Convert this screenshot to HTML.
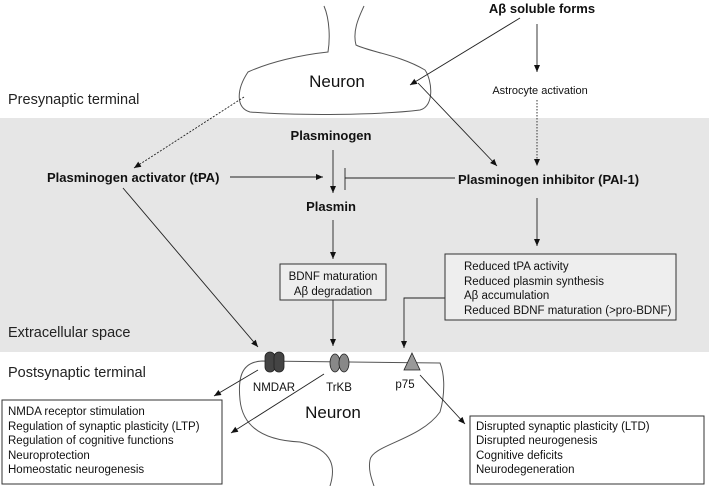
<!DOCTYPE html>
<html><head><meta charset="utf-8"><style>
html,body{margin:0;padding:0;background:#fff}
svg{display:block}
text{font-family:"Liberation Sans",sans-serif;fill:#111}
.b{font-weight:bold;font-size:13px}
.s{font-size:11.5px}
.h{font-size:14.5px;fill:#222}
</style></head><body>
<svg width="709" height="486" viewBox="0 0 709 486" xmlns="http://www.w3.org/2000/svg">
<defs><marker id="a" markerWidth="8" markerHeight="8" refX="7" refY="4" orient="auto" markerUnits="userSpaceOnUse"><path d="M0,1 L7,4 L0,7z" fill="#111"/></marker></defs>
<rect x="0" y="118" width="709" height="234" fill="#e6e6e6"/>
<g fill="none" stroke="#555" stroke-width="1">
<path d="M324,6 C330,20 330,40 328,52 C300,55 270,62 248,72 C236,90 236,108 250,112 C300,116 380,115 420,110 C435,106 432,80 425,70 C400,55 370,52 356,45 C352,30 360,15 364,6"/>
<path d="M330,486 C335,470 336,450 300,442 C255,440 242,420 240,400 C238,380 240,362 262,361 L440,363 C445,375 445,395 440,412 C420,440 372,445 370,460 C368,470 372,480 374,486"/>
</g>
<g stroke="#222" stroke-width="0.9" fill="none">
<line x1="520" y1="18" x2="410" y2="85" marker-end="url(#a)"/>
<line x1="537" y1="24" x2="537" y2="72" marker-end="url(#a)"/>
<line x1="537" y1="100" x2="537" y2="166" stroke-dasharray="1.5,1.5" marker-end="url(#a)"/>
<line x1="244" y1="97" x2="134" y2="168" stroke-dasharray="2,1.5" marker-end="url(#a)"/>
<line x1="418" y1="83" x2="497" y2="166" marker-end="url(#a)"/>
<line x1="230" y1="177" x2="323" y2="177" marker-end="url(#a)"/>
<line x1="333" y1="150" x2="333" y2="193" marker-end="url(#a)"/>
<line x1="345" y1="168" x2="345" y2="190"/>
<line x1="345" y1="178" x2="455" y2="178"/>
<line x1="333" y1="220" x2="333" y2="259" marker-end="url(#a)"/>
<line x1="537" y1="198" x2="537" y2="246" marker-end="url(#a)"/>
<line x1="333" y1="300" x2="333" y2="346" marker-end="url(#a)"/>
<polyline points="445,298 404,298 404,348" marker-end="url(#a)"/>
<line x1="123" y1="188" x2="258" y2="347" marker-end="url(#a)"/>
<line x1="258" y1="370" x2="214" y2="396" marker-end="url(#a)"/>
<line x1="324" y1="374" x2="231" y2="433" marker-end="url(#a)"/>
<line x1="420" y1="375" x2="465" y2="424" marker-end="url(#a)"/>
</g>
<rect x="280" y="264" width="106" height="36" fill="#eee" stroke="#333"/>
<rect x="445" y="254" width="231" height="66" fill="#eee" stroke="#333"/>
<rect x="2" y="400" width="220" height="84" fill="#fff" stroke="#333"/>
<rect x="470" y="416" width="234" height="68" fill="#fff" stroke="#333"/>
<g stroke="#222" stroke-width="0.8">
<rect x="265" y="352" width="10" height="20" rx="5" fill="#444"/>
<rect x="274" y="352" width="10" height="20" rx="5" fill="#444"/>
<ellipse cx="335" cy="363" rx="5" ry="9" fill="#888"/>
<ellipse cx="344" cy="363" rx="5" ry="9" fill="#888"/>
<path d="M412,353 L420,370 L404,370z" fill="#999"/>
</g>
<text x="542" y="13" class="b" text-anchor="middle" font-size="13.5">Aβ soluble forms</text>
<text x="337" y="87" text-anchor="middle" font-size="17">Neuron</text>
<text x="540" y="94" text-anchor="middle" font-size="11">Astrocyte activation</text>
<text x="8" y="104" class="h">Presynaptic terminal</text>
<text x="331" y="140" class="b" text-anchor="middle">Plasminogen</text>
<text x="47" y="182" class="b">Plasminogen activator (tPA)</text>
<text x="458" y="184" class="b">Plasminogen inhibitor (PAI-1)</text>
<text x="331" y="211" class="b" text-anchor="middle">Plasmin</text>
<text x="333" y="280" class="s" text-anchor="middle">BDNF maturation</text>
<text x="333" y="295" class="s" text-anchor="middle">Aβ degradation</text>
<g class="s"><text x="464" y="270">Reduced tPA activity</text>
<text x="464" y="285">Reduced plasmin synthesis</text>
<text x="464" y="299">Aβ accumulation</text>
<text x="464" y="314">Reduced BDNF maturation (&gt;pro-BDNF)</text></g>
<text x="8" y="337" class="h">Extracellular space</text>
<text x="8" y="377" class="h">Postsynaptic terminal</text>
<text x="274" y="391" class="s" text-anchor="middle">NMDAR</text>
<text x="339" y="391" class="s" text-anchor="middle">TrKB</text>
<text x="405" y="388" class="s" text-anchor="middle">p75</text>
<text x="333" y="418" text-anchor="middle" font-size="17">Neuron</text>
<g class="s"><text x="8" y="415">NMDA receptor stimulation</text>
<text x="8" y="430">Regulation of synaptic plasticity (LTP)</text>
<text x="8" y="444">Regulation of cognitive functions</text>
<text x="8" y="459">Neuroprotection</text>
<text x="8" y="473">Homeostatic neurogenesis</text></g>
<g class="s"><text x="476" y="430">Disrupted synaptic plasticity (LTD)</text>
<text x="476" y="444">Disrupted neurogenesis</text>
<text x="476" y="459">Cognitive deficits</text>
<text x="476" y="473">Neurodegeneration</text></g>
</svg>
</body></html>
